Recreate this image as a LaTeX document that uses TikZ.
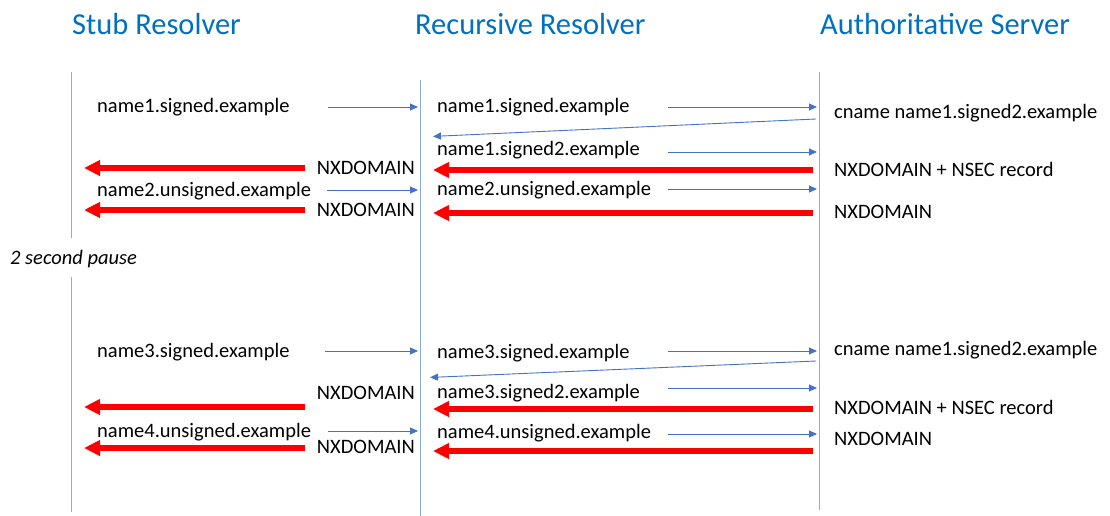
\documentclass[tikz,border=0pt]{standalone}
\usepackage{fontspec}
\setmainfont{Carlito}
\usetikzlibrary{arrows.meta}

\definecolor{lifeblue}{RGB}{143,170,220}
\definecolor{msgblue}{RGB}{68,114,196}
\definecolor{titleblue}{RGB}{0,112,192}

\tikzset{
  lifeline/.style={draw=lifeblue,line width=1pt},
  query/.style={draw=msgblue,line width=.9pt,-{Triangle[length=8pt,width=7pt]},shorten >=2pt},
  referral/.style={draw=msgblue,line width=.9pt,-{Triangle[length=8pt,width=7pt]},shorten >=13pt},
  nxreply/.style={draw=red,line width=5.5pt,-{Triangle[length=16pt,width=15pt]},shorten >=13pt},
  actor/.style={font=\fontsize{30.5}{36}\selectfont,text=titleblue,inner sep=0pt,anchor=base west},
  msg/.style={font=\fontsize{20.5}{24}\selectfont,inner sep=0pt,anchor=base west},
  rmsg/.style={msg,anchor=base east}
}

\begin{document}
\begin{tikzpicture}[x=1pt,y=-1pt]
 \useasboundingbox (0,0) rectangle (1110,516);

 % column headings
 \node[actor] (stubhd) at (72,35) {Stub Resolver};
 \node[actor] (rechd) at (415,35) {Recursive Resolver};
 \node[actor] (authhd) at (820,35) {Authoritative Server};

 % lifelines
 \coordinate (stub) at (71,72);
 \coordinate (stubbrk) at (71,238);
 \coordinate (stubres) at (71,277);
 \coordinate (stubend) at (71,512);
 \coordinate (rec) at (420,80);
 \coordinate (recend) at (420,516);
 \coordinate (auth) at (819,72);
 \coordinate (authend) at (819,510);
 \draw[lifeline] (stub) -- (stubbrk);
 \draw[lifeline] (stubres) -- (stubend);
 \draw[lifeline] (rec) -- (recend);
 \draw[lifeline] (auth) -- (authend);

 % first round: name1 and name2
 \node[msg] (q1) at (97,113) {name1.signed.example};
 \node[msg] (f1) at (437,113) {name1.signed.example};
 \node[msg] (c1) at (834,119) {cname name1.signed2.example};
 \node[msg] (f1b) at (437,155) {name1.signed2.example};
 \node[rmsg] (nx1) at (415,174) {NXDOMAIN};
 \node[msg] (ns1) at (834,176) {NXDOMAIN + NSEC record};
 \node[msg] (q2) at (97,196) {name2.unsigned.example};
 \node[msg] (f2) at (437,195) {name2.unsigned.example};
 \node[rmsg] (nx2) at (415,216) {NXDOMAIN};
 \node[msg] (an2) at (834,218) {NXDOMAIN};

 \coordinate (q1a) at (328,107);
 \coordinate (f1a) at (668,107);
 \coordinate (c1a) at (816,119);
 \coordinate (c1b) at (420,137);
 \coordinate (f1c) at (668,152);
 \coordinate (ns1a) at (813,170);
 \coordinate (nx1a) at (305,168);
 \coordinate (q2a) at (327,190);
 \coordinate (f2a) at (668,189);
 \coordinate (an2a) at (813,213);
 \coordinate (nx2a) at (305,210);

 \draw[query] (q1a) -- (q1a -| rec);
 \draw[query] (f1a) -- (f1a -| auth);
 \draw[referral] (c1a) -- (c1b);
 \draw[query] (f1c) -- (f1c -| auth);
 \draw[nxreply] (ns1a) -- (ns1a -| rec);
 \draw[nxreply] (nx1a) -- (nx1a -| stub);
 \draw[query] (q2a) -- (q2a -| rec);
 \draw[query] (f2a) -- (f2a -| auth);
 \draw[nxreply] (an2a) -- (an2a -| rec);
 \draw[nxreply] (nx2a) -- (nx2a -| stub);

 \node[msg,font=\fontsize{20.5}{24}\selectfont\itshape] (pause) at (10,264) {2 second pause};

 % second round: name3 and name4
 \node[msg] (q3) at (97,357) {name3.signed.example};
 \node[msg] (f3) at (437,358) {name3.signed.example};
 \node[msg] (c3) at (834,355) {cname name1.signed2.example};
 \node[rmsg] (nx3) at (415,399) {NXDOMAIN};
 \node[msg] (f3b) at (437,398) {name3.signed2.example};
 \node[msg] (ns3) at (834,414) {NXDOMAIN + NSEC record};
 \node[msg] (q4) at (97,437) {name4.unsigned.example};
 \node[msg] (f4) at (437,438) {name4.unsigned.example};
 \node[msg] (an4) at (834,445) {NXDOMAIN};
 \node[rmsg] (nx4) at (415,453) {NXDOMAIN};

 \coordinate (q3a) at (325,351);
 \coordinate (f3a) at (668,351);
 \coordinate (c3a) at (816,361);
 \coordinate (c3b) at (417,378);
 \coordinate (f3c) at (668,388);
 \coordinate (ns3a) at (813,409);
 \coordinate (nx3a) at (305,407);
 \coordinate (q4a) at (328,431);
 \coordinate (f4a) at (668,434);
 \coordinate (an4a) at (813,451);
 \coordinate (nx4a) at (305,448);

 \draw[query] (q3a) -- (q3a -| rec);
 \draw[query] (f3a) -- (f3a -| auth);
 \draw[referral] (c3a) -- (c3b);
 \draw[query] (f3c) -- (f3c -| auth);
 \draw[nxreply] (ns3a) -- (ns3a -| rec);
 \draw[nxreply] (nx3a) -- (nx3a -| stub);
 \draw[query] (q4a) -- (q4a -| rec);
 \draw[query] (f4a) -- (f4a -| auth);
 \draw[nxreply] (an4a) -- (an4a -| rec);
 \draw[nxreply] (nx4a) -- (nx4a -| stub);
\end{tikzpicture}
\end{document}
